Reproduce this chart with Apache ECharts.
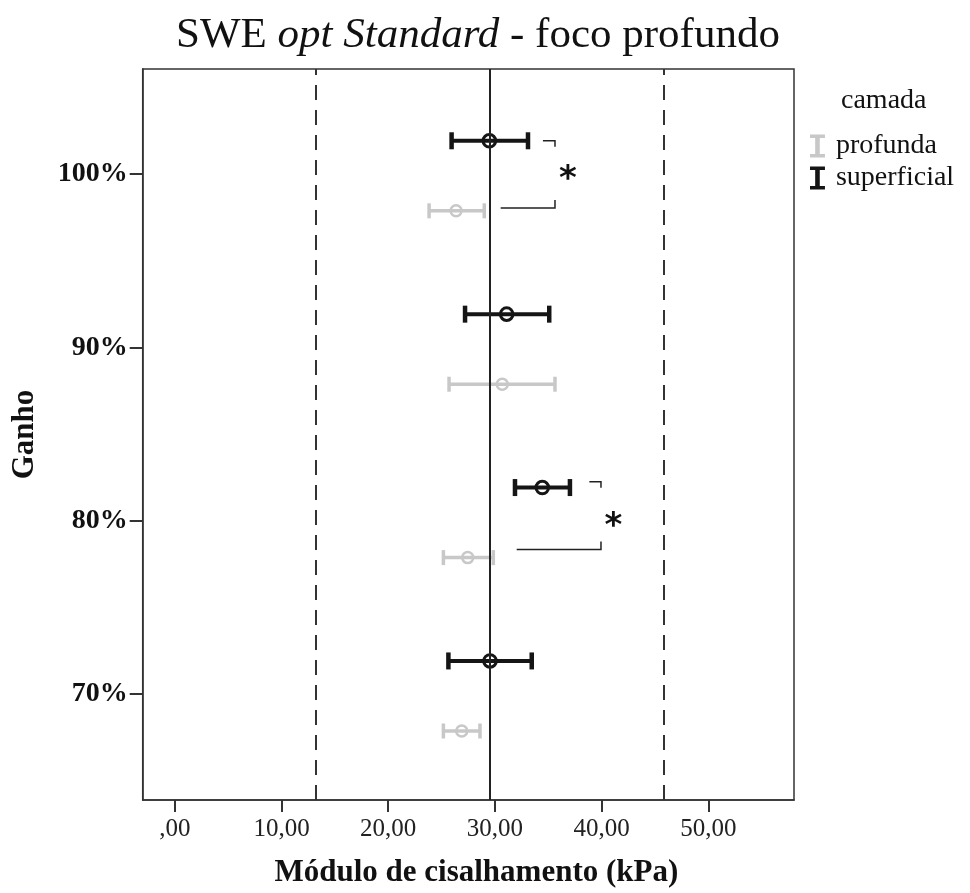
<!DOCTYPE html>
<html>
<head>
<meta charset="utf-8">
<title>SWE opt Standard - foco profundo</title>
<script src="https://cdn.jsdelivr.net/npm/echarts@6/dist/echarts.min.js"></script>
<style>
  html, body { margin: 0; padding: 0; background: #fff; }
  #chart { width: 970px; height: 893px; }
</style>
</head>
<body>
<div id="chart"></div>
<script>
// Gain levels (y categories) and their tick labels
const gainLevels = [100, 90, 80, 70];
const gainLabels = ['100%', '90%', '80%', '70%'];
const xTickValues = [0, 10, 20, 30, 40, 50];

// Layer "superficial": mean and 95% CI bounds (kPa)
const superficialMean = [29.48, 31.10, 34.44, 29.54];
const superficialLow  = [25.94, 27.20, 31.88, 25.64];
const superficialHigh = [33.10, 35.09, 37.03, 33.45];

// Layer "profunda": mean and 95% CI bounds (kPa)
const profundaMean = [26.36, 30.69, 27.45, 26.89];
const profundaLow  = [23.83, 25.70, 25.17, 25.17];
const profundaHigh = [29.00, 35.63, 29.85, 28.60];

// Reference lines: overall mean and limits (kPa)
const refMean = 29.54;
const refLimits = [13.18, 45.83];

// Significance brackets between layers
const sigGain        = [100, 80];
const sigTopY        = [101.92, 82.25];
const sigBottomY     = [98.04, 78.35];
const sigTopStartX   = [34.50, 38.85];
const sigBottomStartX= [30.54, 32.04];
const sigEndX        = [35.63, 39.94];
const sigStarX       = [36.85, 41.10];
const sigLabel       = ['*', '*'];

// Vertical dodge of each layer around its gain level
const DODGE_SUP = 1.92;
const DODGE_PRO = -2.12;

const SERIF = '"Liberation Serif", "Times New Roman", serif';
const BLACK = '#151515';
const GREY = '#c8c8c8';

function errorBarRenderer(style) {
  return function (params, api) {
    const y = api.value(1);
    const c = api.coord([api.value(0), y]);
    const lo = api.coord([api.value(2), y]);
    const hi = api.coord([api.value(3), y]);
    const h = style.capHeight / 2;
    const ls = { stroke: style.color, lineWidth: style.lineWidth, fill: null };
    return {
      type: 'group',
      children: [
        { type: 'line', shape: { x1: lo[0], y1: lo[1], x2: hi[0], y2: hi[1] }, style: ls },
        { type: 'line', shape: { x1: lo[0], y1: lo[1] - h, x2: lo[0], y2: lo[1] + h }, style: { stroke: style.color, lineWidth: style.capWidth } },
        { type: 'line', shape: { x1: hi[0], y1: hi[1] - h, x2: hi[0], y2: hi[1] + h }, style: { stroke: style.color, lineWidth: style.capWidth } },
        { type: 'circle', shape: { cx: c[0], cy: c[1], r: style.radius }, style: { stroke: style.color, lineWidth: style.circleWidth, fill: null } }
      ]
    };
  };
}

const superficialData = gainLevels.map((g, i) => [superficialMean[i], g + DODGE_SUP, superficialLow[i], superficialHigh[i]]);
const profundaData = gainLevels.map((g, i) => [profundaMean[i], g + DODGE_PRO, profundaLow[i], profundaHigh[i]]);
const bracketData = sigGain.map((g, i) => [sigTopStartX[i], sigTopY[i], sigBottomStartX[i], sigBottomY[i], sigEndX[i], sigStarX[i], g]);

const iconPath = 'path://M0,0 L13,0 L13,3 L8.5,3 L8.5,17 L13,17 L13,20 L0,20 L0,17 L4.5,17 L4.5,3 L0,3 Z';

const chart = echarts.init(document.getElementById('chart'), null, { renderer: 'canvas' });

chart.setOption({
  animation: false,
  backgroundColor: '#fff',
  title: [
    {
      text: '{a|SWE }{b|opt Standard}{a| - foco profundo}',
      left: 171,
      top: 9,
      textStyle: {
        rich: {
          a: { fontFamily: SERIF, fontSize: 43, fontWeight: 'normal', color: '#111' },
          b: { fontFamily: SERIF, fontSize: 43, fontWeight: 'normal', fontStyle: 'italic', color: '#111' }
        }
      }
    },
    {
      text: 'camada',
      left: 836,
      top: 82,
      textStyle: { fontFamily: SERIF, fontSize: 28, fontWeight: 'normal', color: '#111' }
    }
  ],
  legend: {
    orient: 'vertical',
    left: 805,
    top: 127,
    itemWidth: 19,
    itemHeight: 23,
    itemGap: 4,
    data: [
      { name: 'profunda', icon: iconPath },
      { name: 'superficial', icon: iconPath }
    ],
    textStyle: { fontFamily: SERIF, fontSize: 28, color: '#111', padding: [0, 0, 0, 4] }
  },
  grid: {
    left: 142.7,
    right: 176,
    top: 69,
    bottom: 93,
    show: true,
    borderColor: '#333',
    borderWidth: 1.5,
    backgroundColor: 'transparent'
  },
  xAxis: {
    type: 'value',
    min: -3.01,
    max: 58.03,
    splitLine: { show: false },
    axisLine: { show: true, onZero: false, lineStyle: { color: '#333', width: 1.5 } },
    axisTick: { show: true, customValues: xTickValues, length: 12, lineStyle: { color: '#333', width: 2 } },
    axisLabel: {
      customValues: xTickValues,
      formatter: v => (v === 0 ? ',00' : v.toFixed(2).replace('.', ',')),
      fontFamily: SERIF,
      fontSize: 25,
      color: '#222',
      margin: 17
    },
    name: 'Módulo de cisalhamento (kPa)',
    nameLocation: 'middle',
    nameGap: 57,
    nameTextStyle: { fontFamily: SERIF, fontWeight: 'bold', fontSize: 31, color: '#111', padding: [0, 0, 0, 16] }
  },
  yAxis: {
    type: 'value',
    min: 63.9,
    max: 106.06,
    splitLine: { show: false },
    axisLine: { show: true, onZero: false, lineStyle: { color: '#333', width: 1.5 } },
    axisTick: { show: true, customValues: gainLevels, length: 13, lineStyle: { color: '#333', width: 2 } },
    axisLabel: {
      customValues: gainLevels,
      formatter: v => gainLabels[gainLevels.indexOf(v)],
      fontFamily: SERIF,
      fontSize: 28,
      fontWeight: 'bold',
      color: '#111',
      margin: 15
    },
    name: 'Ganho',
    nameLocation: 'middle',
    nameGap: 102,
    nameRotate: 90,
    nameTextStyle: { fontFamily: SERIF, fontWeight: 'bold', fontSize: 31, color: '#111' }
  },
  series: [
    {
      name: 'refLines',
      type: 'line',
      data: [],
      silent: true,
      markLine: {
        silent: true,
        symbol: 'none',
        label: { show: false },
        data: [
          { xAxis: refLimits[0], lineStyle: { type: [15, 10], color: '#333', width: 2 } },
          { xAxis: refLimits[1], lineStyle: { type: [15, 10], color: '#333', width: 2 } },
          { xAxis: refMean, lineStyle: { type: 'solid', color: '#222', width: 2 } }
        ]
      }
    },
    {
      name: 'profunda',
      type: 'custom',
      itemStyle: { color: GREY },
      encode: { x: [0, 2, 3], y: 1 },
      renderItem: errorBarRenderer({ color: GREY, lineWidth: 3.5, capWidth: 3.5, capHeight: 15, radius: 5.5, circleWidth: 2.5 }),
      data: profundaData,
      z: 3
    },
    {
      name: 'superficial',
      type: 'custom',
      itemStyle: { color: BLACK },
      encode: { x: [0, 2, 3], y: 1 },
      renderItem: errorBarRenderer({ color: BLACK, lineWidth: 4, capWidth: 4.5, capHeight: 17, radius: 6.3, circleWidth: 3 }),
      data: superficialData,
      z: 4
    },
    {
      name: 'significance',
      type: 'custom',
      silent: true,
      encode: { x: [0, 2, 4], y: [1, 3] },
      renderItem: function (params, api) {
        const top0 = api.coord([api.value(0), api.value(1)]);
        const bot0 = api.coord([api.value(2), api.value(3)]);
        const topEnd = api.coord([api.value(4), api.value(1)]);
        const botEnd = api.coord([api.value(4), api.value(3)]);
        const star = api.coord([api.value(5), api.value(6)]);
        const ls = { stroke: '#222', lineWidth: 1.5, fill: null };
        return {
          type: 'group',
          children: [
            { type: 'polyline', shape: { points: [top0, topEnd, [topEnd[0], topEnd[1] + 6]] }, style: ls },
            { type: 'polyline', shape: { points: [bot0, botEnd, [botEnd[0], botEnd[1] - 8]] }, style: ls },
            {
              type: 'text',
              x: star[0],
              y: star[1] + 6,
              style: {
                text: sigLabel[params.dataIndex],
                font: 'bold 34px "DejaVu Sans", sans-serif',
                fill: '#111',
                align: 'center',
                verticalAlign: 'middle'
              }
            }
          ]
        };
      },
      data: bracketData,
      z: 5
    }
  ]
});
</script>
</body>
</html>
